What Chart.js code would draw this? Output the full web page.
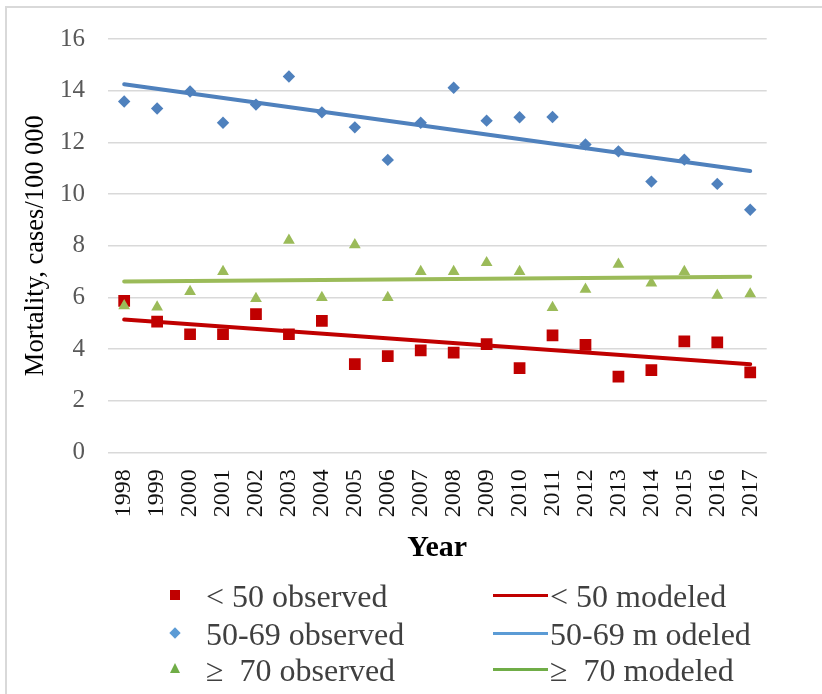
<!DOCTYPE html>
<html>
<head>
<meta charset="utf-8">
<script src="https://cdn.jsdelivr.net/npm/chart.js@4/dist/chart.umd.min.js"></script>
<style>
  html, body { margin: 0; padding: 0; background: #fff; }
  #wrap { position: relative; width: 822px; height: 694px; overflow: hidden; }
  #chart { position: absolute; left: 0; top: 0; }
  #frame { position: absolute; left: 5px; top: 6px; width: 830px; height: 700px;
           border-top: 2px solid #d9d9d9; border-left: 2px solid #d9d9d9; pointer-events: none; }
  .lg { position: absolute; font-family: "Liberation Serif", "Times New Roman", serif;
        font-size: 32px; color: #404040; line-height: 38px; white-space: pre; }
  .mk { position: absolute; }
  .ln { position: absolute; height: 3px; }
</style>
</head>
<body>
<div id="wrap">
  <canvas id="chart" width="822" height="694"></canvas>
  <div id="frame"></div>
  <div id="legend"></div>
</div>
<script>
// Years on the category axis
const years = ['1998','1999','2000','2001','2002','2003','2004','2005','2006','2007',
               '2008','2009','2010','2011','2012','2013','2014','2015','2016','2017'];

// Observed mortality, cases per 100 000, by age group
const under50Observed = [5.86, 5.06, 4.57, 4.57, 5.35, 4.57, 5.09, 3.41, 3.72, 3.95,
                         3.86, 4.19, 3.26, 4.53, 4.16, 2.93, 3.18, 4.29, 4.26, 3.09];
const age50to69Observed = [13.58, 13.31, 13.97, 12.76, 13.46, 14.55, 13.16, 12.58, 11.32, 12.76,
                           14.11, 12.84, 12.97, 12.98, 11.92, 11.65, 10.48, 11.33, 10.39, 9.39];
const over70Observed = [5.67, 5.62, 6.22, 7.00, 5.95, 8.21, 5.99, 8.03, 5.99, 7.00,
                        7.00, 7.34, 7.00, 5.60, 6.31, 7.28, 6.55, 7.00, 6.08, 6.13];

// Modeled trend lines: values at the first and last year
const under50Modeled = [5.14, 3.41];
const age50to69Modeled = [14.25, 10.89];
const over70Modeled = [6.61, 6.80];

// Y axis ticks
const yTicks = [0, 2, 4, 6, 8, 10, 12, 14, 16];

const seriesNames = ['< 50 observed', '< 50 modeled', '50-69 observed', '50-69 m odeled',
                     '\u2265  70 observed', '\u2265  70 modeled'];

const RED = '#c00000', BLUE = '#4f81bd', GREEN = '#9bbb59';

// Trend line spanning first to last year
function trend(ends) {
  return years.map((y, i) => i === 0 ? ends[0] : (i === years.length - 1 ? ends[1] : null));
}

function scatter(label, data, color, style, radius, order) {
  return { type: 'line', label, data, showLine: false, pointStyle: style,
           pointRadius: radius, pointHoverRadius: radius, pointBackgroundColor: color,
           pointBorderColor: color, pointBorderWidth: 0, borderColor: color, order };
}
function modeled(label, ends, color, order) {
  return { type: 'line', label, data: trend(ends), spanGaps: true, borderColor: color,
           borderWidth: 4, pointRadius: 0, fill: false, tension: 0, order,
           borderCapStyle: 'round' };
}

const serif = '"Liberation Serif", "Times New Roman", serif';

new Chart(document.getElementById('chart'), {
  data: {
    labels: years,
    datasets: [
      scatter(seriesNames[0], under50Observed, RED, 'rect', 8.3, 3),
      modeled(seriesNames[1], under50Modeled, RED, 4),
      scatter(seriesNames[2], age50to69Observed, BLUE, 'rectRot', 6.2, 2),
      modeled(seriesNames[3], age50to69Modeled, BLUE, 5),
      scatter(seriesNames[4], over70Observed, GREEN, 'triangle', 6.8, 1),
      modeled(seriesNames[5], over70Modeled, GREEN, 6)
    ]
  },
  options: {
    responsive: false,
    animation: false,
    events: [],
    layout: { padding: { left: 5, top: 39, right: 55.3, bottom: 119 } },
    plugins: { legend: { display: false }, tooltip: { enabled: false } },
    scales: {
      x: {
        type: 'category',
        offset: true,
        grid: { display: false },
        border: { display: false },
        ticks: { minRotation: 90, maxRotation: 90, padding: 9, color: '#111',
                 font: { family: serif, size: 24 } },
        title: { display: true, text: 'Year', color: '#000',
                 font: { family: serif, size: 30, weight: 'bold' },
                 padding: { top: 0, bottom: 8.5 } },
        afterFit: s => { s.height = 122.7; }
      },
      y: {
        min: 0, max: 16,
        afterBuildTicks: s => { s.ticks = yTicks.map(v => ({ value: v })); },
        grid: { color: '#d9d9d9', lineWidth: 1.5, drawTicks: false },
        border: { display: false },
        ticks: { padding: 22.7, color: '#595959', font: { family: serif, size: 25 } },
        title: { display: true, text: 'Mortality, cases/100 000', color: '#000',
                 font: { family: serif, size: 26.5 }, padding: { top: 15, bottom: 0 } },
        afterFit: s => { s.width = 102.7; }
      }
    }
  }
});

// Two-column legend under the chart
const legendColors = { red: '#c00000', blue: '#5b9bd5', green: '#70ad47' };
const rows = [
  { obs: seriesNames[0], mod: seriesNames[1], color: legendColors.red, shape: 'square' },
  { obs: seriesNames[2], mod: seriesNames[3], color: legendColors.blue, shape: 'diamond' },
  { obs: seriesNames[4], mod: seriesNames[5], color: legendColors.green, shape: 'triangle' }
];
const legend = document.getElementById('legend');
const rowCenters = [595, 633, 669];
rows.forEach((r, i) => {
  const cy = rowCenters[i];
  const mk = document.createElement('div');
  mk.className = 'mk';
  if (r.shape === 'square') {
    Object.assign(mk.style, { left: '170px', top: (cy - 5) + 'px', width: '10px', height: '10px', background: r.color });
  } else if (r.shape === 'diamond') {
    Object.assign(mk.style, { left: '171px', top: (cy - 4) + 'px', width: '8px', height: '8px', background: r.color, transform: 'rotate(45deg)' });
  } else {
    Object.assign(mk.style, { left: '170px', top: (cy - 6) + 'px', width: '0', height: '0',
      borderLeft: '5.5px solid transparent', borderRight: '5.5px solid transparent', borderBottom: '10px solid ' + r.color });
  }
  legend.appendChild(mk);

  const t1 = document.createElement('div');
  t1.className = 'lg';
  t1.textContent = r.obs;
  t1.style.left = '206px';
  t1.style.top = (cy - 18) + 'px';
  legend.appendChild(t1);

  const ln = document.createElement('div');
  ln.className = 'ln';
  Object.assign(ln.style, { left: '493px', width: '55px', top: (cy - 1.5) + 'px', background: r.color });
  legend.appendChild(ln);

  const t2 = document.createElement('div');
  t2.className = 'lg';
  t2.textContent = r.mod;
  t2.style.left = '550px';
  t2.style.top = (cy - 18) + 'px';
  legend.appendChild(t2);
});
</script>
</body>
</html>
